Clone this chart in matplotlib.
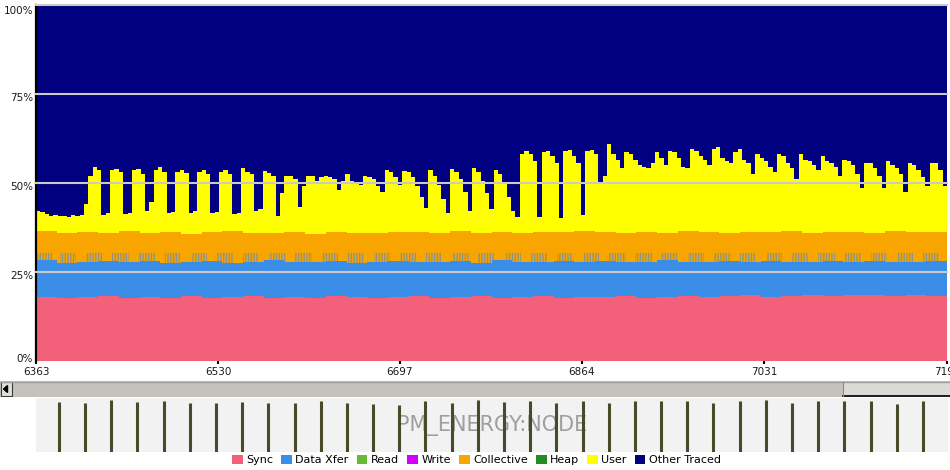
import numpy as np
import matplotlib
matplotlib.use('Agg')
import matplotlib.pyplot as plt
from matplotlib.patches import Patch, Rectangle, Polygon
from matplotlib.transforms import ScaledTranslation

plt.rcParams['font.family'] = ['DejaVu Sans']
plt.rcParams['hatch.linewidth'] = 1.0

# ==========================================
# data
# ==========================================
categories = ['Sync', 'Data Xfer', 'Read', 'Write', 'Collective', 'Heap', 'User', 'Other Traced']
colors = ['#f26179', '#3a8ee8', '#66bb33', '#d400ff', '#f8a500', '#228b22', '#ffff00', '#000080']

t_start, t_end = 6363, 7199

# upper edge of the User layer (cumulative %), one value every 4 time units
user_top = [
    42.0, 41.8, 41.2, 40.8, 41.0, 40.6, 40.8, 40.5, 40.9, 40.6, 41.0, 44.0,
    52.0, 54.3, 53.5, 41.0, 41.5,
    53.5, 53.8, 53.0, 41.2, 41.5,
    53.5, 53.8, 52.5, 42.0, 44.5,
    53.5, 54.5, 53.0, 41.5, 41.8,
    53.0, 53.5, 52.8, 41.5, 42.0,
    53.0, 53.5, 52.5, 41.5, 41.8,
    53.0, 53.6, 52.5, 41.2, 41.5,
    54.0, 53.0, 52.5, 42.0, 42.5,
    53.2, 52.8, 52.0, 40.8,
    47.0, 51.8, 51.8, 51.0, 43.3,
    49.0, 52.0, 51.8, 50.5,
    51.5, 52.0, 51.5, 51.0,
    48.0, 50.5, 52.5, 50.5, 50.0, 49.5, 52.0, 51.5, 51.0, 49.0, 47.5, 53.5, 53.0, 51.5, 49.5,
    53.2, 53.0, 51.5, 49.0, 46.0, 43.0,
    53.5, 52.0, 49.5, 45.5, 41.5,
    53.8, 53.0, 51.0, 47.5, 42.0,
    54.0, 53.0, 50.5, 47.0, 42.5,
    53.5, 52.5, 50.0, 46.0, 42.0, 40.3,
    58.0, 59.0, 58.0, 56.0, 40.5,
    58.5, 59.0, 57.5, 55.5, 40.0,
    59.0, 59.2, 57.5, 55.5, 41.0,
    59.0, 59.3, 58.0, 50.0,
    52.0, 61.0, 58.0, 56.5, 54.0,
    58.5, 58.0, 56.5, 55.0, 54.5, 54.0, 55.5, 58.5, 57.0, 55.0,
    59.0, 58.5, 57.0, 54.5, 54.0,
    59.5, 59.0, 57.5, 56.5, 55.0,
    59.5, 60.0, 57.0, 56.0, 55.5,
    58.5, 59.5, 56.5, 55.5, 52.5,
    58.0, 57.0, 56.0, 54.5, 53.0,
    58.0, 57.5, 55.5, 54.0, 51.0,
    58.0, 56.5, 56.0, 55.0, 53.5,
    57.5, 56.0, 55.5, 54.5, 52.0,
    56.5, 56.0, 55.0, 52.5, 48.5,
    55.5, 55.5, 54.0, 52.0, 48.5,
    56.0, 55.0, 54.0, 52.5, 47.5,
    55.5, 55.0, 53.5, 51.5, 49.0,
    55.5, 55.5, 53.5, 49.0, 48.0,
]

# upper edges of the lower layers (cumulative %), one value every 19 time units
sync_top = [18.0, 17.6, 17.9, 18.2, 17.7, 18.0, 17.8, 18.3, 17.6, 17.9, 18.1, 17.7, 18.0, 17.8, 18.2,
            17.9, 17.6, 18.0, 18.3, 17.8, 17.9, 18.1, 17.7, 18.0, 18.2, 17.8, 18.0, 17.9, 18.3, 17.7,
            18.0, 18.2, 17.9, 18.1, 18.4, 18.0, 18.3, 18.5, 18.2, 18.6, 18.4, 18.2, 18.5, 18.3, 18.1]
xfer_top = [28.2, 27.6, 27.9, 28.1, 27.7, 28.0, 27.5, 27.8, 28.1, 27.6, 27.9, 28.2, 27.7, 27.8, 28.0,
            27.6, 27.9, 28.1, 27.7, 27.9, 28.0, 27.6, 28.2, 27.8, 27.9, 28.1, 27.7, 28.0, 27.8, 27.9,
            28.2, 27.7, 27.9, 28.0, 27.8, 28.1, 27.7, 27.9, 28.0, 27.8, 28.1, 27.9, 27.7, 28.0, 27.9]
coll_top = [36.5, 36.0, 36.3, 35.8, 36.4, 35.9, 36.2, 35.5, 36.1, 36.4, 35.8, 36.0, 36.3, 35.7, 36.2,
            36.0, 35.8, 36.3, 36.1, 35.9, 36.4, 36.0, 36.2, 35.8, 36.3, 36.1, 36.5, 36.2, 35.9, 36.3,
            36.0, 36.4, 36.2, 35.9, 36.3, 36.1, 36.4, 36.0, 36.3, 36.2, 35.9, 36.4, 36.1, 36.3, 36.0]

# short Data Xfer bursts right after each energy sample
xfer_burst_top = 30.4
burst_len = 15

# PM_ENERGY:NODE samples
energy_x = list(range(6384, 7177, 24))
energy_level = [0.93, 0.90, 0.97, 0.93, 0.95, 0.91, 0.91, 0.935, 0.91, 0.91, 0.94, 0.91,
                0.89, 0.865, 0.94, 0.91, 0.96, 0.93, 0.94, 0.91, 0.94, 0.91, 0.94, 0.94,
                0.94, 0.91, 0.94, 0.96, 0.91, 0.94, 0.94, 0.94, 0.89, 0.94]

xtick_vals = [6363, 6530, 6697, 6864, 7031, 7199]
ytick_vals = [0, 25, 50, 75, 100]

# ==========================================
# main stacked chart
# ==========================================
fig = plt.figure(figsize=(9.5, 4.7), dpi=100)
ax = fig.add_axes([36 / 950, 1 - 361 / 470, 911 / 950, 356.5 / 470])

t_fine = t_start + 4 * np.arange(len(user_top))
t_coarse = t_start + 19 * np.arange(len(sync_top))

ax.fill_between([t_start, t_end], 0, 100, color=colors[7], lw=0)
ax.fill_between(t_fine, 0, user_top, step='post', color=colors[6], lw=0)
ax.fill_between(t_coarse, 0, coll_top, step='post', color=colors[4], lw=0)
burst_start = [t_start] + [e + 1 for e in energy_x]
for s in burst_start:
    ax.fill_between([s, min(s + burst_len, t_end)], 0, xfer_burst_top,
                    facecolor=colors[4], edgecolor='#8f9488', hatch='||||||', lw=0)
ax.fill_between(t_coarse, 0, xfer_top, step='post', color=colors[1], lw=0)
ax.fill_between(t_coarse, 0, sync_top, step='post', color=colors[0], lw=0)

for yv in ytick_vals[1:]:
    ax.axhline(yv, color='#c9c9c9', lw=1.5, zorder=5, clip_on=False)

ax.set_xlim(t_start, t_end)
ax.set_ylim(0, 100)
ax.set_xticks(xtick_vals)
ax.set_xticklabels([str(v) for v in xtick_vals])
ax.set_yticks(ytick_vals)
ax.set_yticklabels([f'{v}%' for v in ytick_vals])
ax.tick_params(axis='y', length=0, pad=2, labelsize=7.5, labelcolor='#1a1a1a')
ax.tick_params(axis='x', length=2.5, width=1.5, pad=2, labelsize=7.5, labelcolor='#1a1a1a')
# y labels sit a little below their lines (0% a little above)
for lab, dy in zip(ax.get_yticklabels(), [3, -3, -3, -3, -5]):
    lab.set_transform(lab.get_transform() + ScaledTranslation(0, dy / 100, fig.dpi_scale_trans))
for side in ['top', 'right', 'bottom']:
    ax.spines[side].set_visible(False)
ax.spines['left'].set_linewidth(1.6)
ax.spines['left'].set_color('black')

# ==========================================
# scrollbar
# ==========================================
sb = fig.add_axes([0, 1 - 397 / 470, 1, 16 / 470])
sb.set_xlim(0, 950)
sb.set_ylim(0, 16)
sb.axis('off')
sb.add_patch(Rectangle((0, 0), 950, 16, color='#c4c2bc', lw=0))
sb.plot([0, 950], [15.5, 15.5], color='#a3a19b', lw=1)
sb.add_patch(Rectangle((0.5, 1), 11.5, 14, facecolor='#e2e0db', edgecolor='#3a3a3a', lw=0.8))
sb.add_patch(Polygon([[3.5, 8], [7.5, 4.5], [7.5, 11.5]], color='black'))
sb.add_patch(Rectangle((843, 0.8), 107, 14.2, facecolor='#dcdad5', edgecolor='none'))
sb.plot([843, 950], [0.8, 0.8], color='black', lw=1.2)
sb.plot([843, 843], [0.8, 15], color='#8c8a85', lw=0.8)

# ==========================================
# energy strip
# ==========================================
st = fig.add_axes([36 / 950, 1 - 452 / 470, 912 / 950, 54 / 470])
st.set_facecolor('#f2f2f2')
for side in st.spines:
    st.spines[side].set_visible(False)
st.set_xticks([])
st.set_yticks([])
st.set_xlim(t_start, t_end)
st.set_ylim(0, 1)
st.text(0.5, 0.5, 'PM_ENERGY:NODE', transform=st.transAxes, ha='center', va='center',
        fontsize=15, color='#9e9e9e', zorder=1)
st.vlines(energy_x, 0, energy_level, color='#4a4a28', lw=2.2, zorder=2)

# ==========================================
# legend
# ==========================================
handles = [Patch(facecolor=c, edgecolor='none') for c in colors]
fig.legend(handles, categories, loc='center', bbox_to_anchor=(0.5016, 0.021), ncol=8,
           frameon=False, fontsize=8, handlelength=0.95, handleheight=0.95,
           handletextpad=0.3, columnspacing=0.75, borderaxespad=0, borderpad=0)

fig.savefig('out.png', dpi=100)
